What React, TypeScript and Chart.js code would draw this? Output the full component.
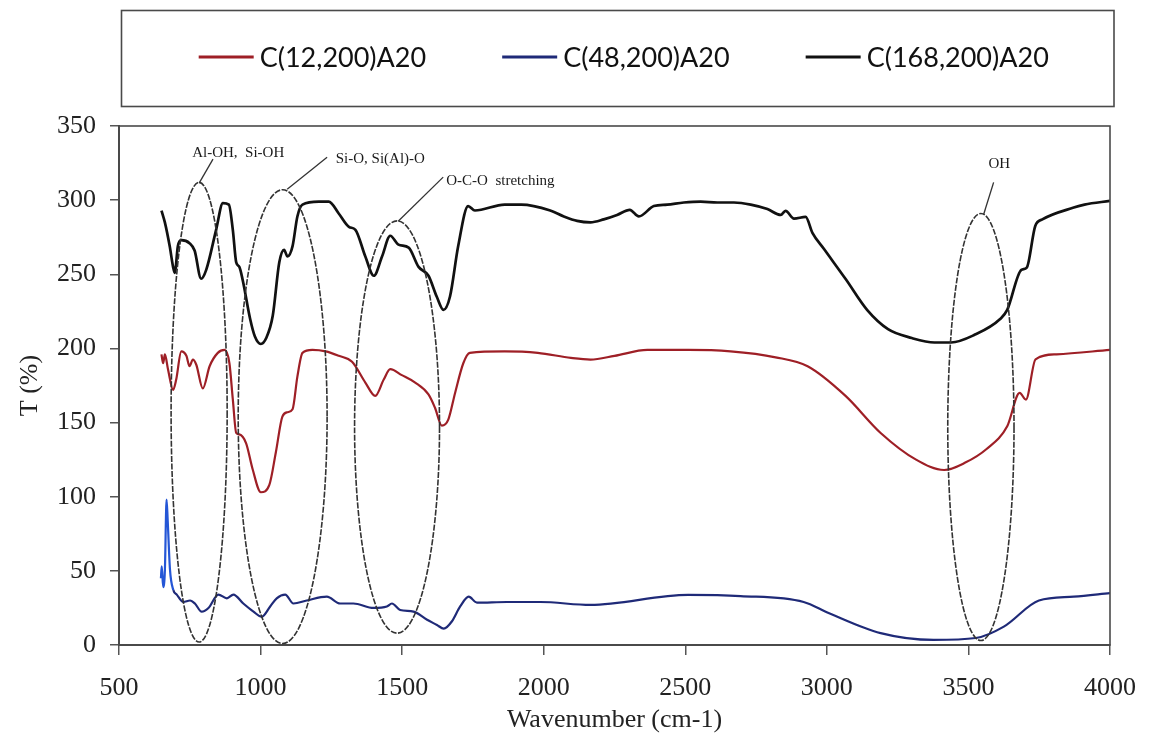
import React, { useEffect, useRef } from "react";
import { Chart, registerables } from "chart.js";

Chart.register(...registerables);

// ---------- data ----------
const seriesNames = ["C(12,200)A20", "C(48,200)A20", "C(168,200)A20"];
const seriesColors = ["#9e1f26", "#1f2a78", "#111111"];

const wn12 = [650, 656, 662, 673, 691, 702, 720, 738, 749, 761, 773, 796, 820, 849, 873, 890, 902, 914, 925, 949, 972, 1001, 1031, 1054, 1077, 1095, 1113, 1130, 1148, 1183, 1230, 1276, 1323, 1370, 1405, 1435, 1458, 1499, 1546, 1593, 1616, 1640, 1663, 1687, 1716, 1739, 1862, 1979, 2096, 2165, 2250, 2366, 2511, 2660, 2819, 2932, 3066, 3190, 3315, 3414, 3489, 3563, 3637, 3681, 3703, 3737, 3811, 4000];
const t12 = [196, 190, 196, 186, 172, 179, 198, 195, 188, 192.5, 189, 173, 188, 197, 199, 190, 165.6, 143, 142, 136, 118.5, 103, 108, 130, 154, 157, 159, 181, 197, 199, 198, 195, 191, 177, 168, 179, 186, 182, 177, 169, 160, 148, 152, 170, 190, 197, 198, 197, 193.6, 192.5, 195, 199, 199, 198, 194, 188, 168, 143, 125, 118, 123, 132, 147.5, 170, 165.5, 192.6, 196, 199];

const wn48 = [648, 651, 656, 662, 668, 672, 680, 692, 704, 727, 751, 768, 792, 816, 851, 881, 904, 939, 975, 1004, 1034, 1057, 1087, 1116, 1163, 1234, 1281, 1328, 1399, 1446, 1464, 1493, 1540, 1588, 1623, 1647, 1676, 1705, 1735, 1764, 1870, 1988, 2165, 2510, 2695, 2918, 3006, 3190, 3377, 3526, 3625, 3749, 3872, 4000];
const t48 = [45, 53, 39, 50, 98, 84, 51, 37, 34, 29, 30, 28, 22.5, 25, 34, 31.5, 34, 28, 22.5, 19, 26, 31.5, 34, 28, 30, 32.6, 28, 28, 25, 26, 28, 23.6, 22.5, 17, 13.5, 11, 16, 26, 32.6, 28.6, 29, 29, 27, 33.8, 33, 29, 21.6, 8, 3.4, 4.7, 12.4, 30, 32.6, 35];

const wn168 = [650, 662, 679, 691, 697, 708, 720, 749, 767, 790, 808, 843, 867, 888, 902, 914, 925, 937, 963, 980, 1001, 1020, 1043, 1066, 1083, 1095, 1113, 1130, 1148, 1206, 1241, 1276, 1312, 1335, 1370, 1400, 1429, 1458, 1487, 1523, 1558, 1593, 1622, 1646, 1669, 1698, 1733, 1757, 1862, 1921, 2023, 2071, 2118, 2165, 2212, 2259, 2304, 2336, 2389, 2436, 2495, 2554, 2613, 2672, 2731, 2790, 2837, 2854, 2884, 2925, 2949, 2990, 3067, 3142, 3216, 3300, 3380, 3439, 3520, 3613, 3637, 3687, 3706, 3736, 3761, 3872, 3910, 4000];
const t168 = [293, 285, 269, 255, 251, 269, 273, 271, 266, 247, 253, 280, 298, 297, 280, 258, 255, 246, 220, 208, 203, 207, 222, 258, 266.5, 262, 269, 289, 297, 299, 299, 291, 282, 280, 262, 249, 262, 276, 270, 268, 255, 249, 235, 226, 235, 269, 296, 293, 297, 297, 293, 289, 286, 285, 287, 290, 293.5, 289, 296, 297, 298.4, 299, 298.4, 298.4, 297, 294, 290, 292.8, 287.6, 288.7, 278, 267, 246.6, 226, 213, 207, 204, 204, 209, 220, 226, 253, 254.5, 282.6, 287, 295, 297, 299.5];

// band annotations (data units: wavenumber / T)
const noteText = ["Al-OH,  Si-OH", "Si-O, Si(Al)-O", "O-C-O  stretching", "OH"];
const noteWn = [921, 1423, 1847, 3609];
const noteT = [332, 327.7, 312.8, 324.3];
const ellipseCx = [783, 1078, 1482, 3544];
const ellipseCy = [157, 154, 147, 147];
const ellipseRx = [99, 157, 150, 117];
const ellipseRy = [155, 153, 139, 144];
const leadFromWn = [783, 1094, 1486, 3554];
const leadFromT = [311.5, 307.4, 285.8, 290.5];
const leadToWn = [832, 1235, 1645, 3589];
const leadToT = [327.7, 329, 315.5, 312];

const SERIF = "'Liberation Serif', 'DejaVu Serif', serif";
const SANS = "Lato, 'Liberation Sans', sans-serif";

const toPts = (xs: number[], ys: number[]) => xs.map((v, i) => ({ x: v, y: ys[i] }));

const decorPlugin = {
  id: "decor",
  afterDraw(chart: any) {
    const { ctx, chartArea: a, scales } = chart;
    const xs = scales.x;
    const ys = scales.y;
    ctx.save();
    // plot frame
    ctx.strokeStyle = "#4a4a4a";
    ctx.lineWidth = 1.6;
    ctx.strokeRect(a.left, a.top, a.right - a.left, a.bottom - a.top);

    // ellipses
    ctx.strokeStyle = "#333";
    ctx.lineWidth = 1.6;
    ctx.setLineDash([6, 1.5]);
    for (let i = 0; i < ellipseCx.length; i++) {
      const cx = xs.getPixelForValue(ellipseCx[i]);
      const cy = ys.getPixelForValue(ellipseCy[i]);
      const rx = Math.abs(xs.getPixelForValue(ellipseCx[i] + ellipseRx[i]) - cx);
      const ry = Math.abs(ys.getPixelForValue(ellipseCy[i] + ellipseRy[i]) - cy);
      ctx.beginPath();
      ctx.ellipse(cx, cy, rx, ry, 0, 0, Math.PI * 2);
      ctx.stroke();
    }
    ctx.setLineDash([]);
    // leader lines
    ctx.lineWidth = 1.3;
    for (let i = 0; i < leadFromWn.length; i++) {
      ctx.beginPath();
      ctx.moveTo(xs.getPixelForValue(leadFromWn[i]), ys.getPixelForValue(leadFromT[i]));
      ctx.lineTo(xs.getPixelForValue(leadToWn[i]), ys.getPixelForValue(leadToT[i]));
      ctx.stroke();
    }
    // note texts
    ctx.fillStyle = "#1a1a1a";
    ctx.font = `15px ${SERIF}`;
    ctx.textAlign = "center";
    ctx.textBaseline = "middle";
    for (let i = 0; i < noteText.length; i++) {
      ctx.fillText(noteText[i], xs.getPixelForValue(noteWn[i]), ys.getPixelForValue(noteT[i]));
    }

    // legend box
    const bx = 121.5, by = 10.5, bw = 992.5, bh = 96;
    ctx.strokeStyle = "#4a4a4a";
    ctx.lineWidth = 1.6;
    ctx.strokeRect(bx, by, bw, bh);
    ctx.font = `27px ${SANS}`;
    ctx.textAlign = "left";
    const lineLen = 55, gapText = 6, gapItem = 76;
    const widths = seriesNames.map((n) => lineLen + gapText + ctx.measureText(n).width);
    const total = widths.reduce((s, w) => s + w, 0) + gapItem * (widths.length - 1);
    let cur = bx + bw / 2 - total / 2 + 6;
    const ly = 57;
    chart.data.datasets.forEach((ds: any, i: number) => {
      ctx.strokeStyle = seriesColors[i];
      ctx.lineWidth = 3;
      ctx.beginPath();
      ctx.moveTo(cur, ly);
      ctx.lineTo(cur + lineLen, ly);
      ctx.stroke();
      ctx.fillStyle = "#111";
      ctx.fillText(ds.label, cur + lineLen + gapText, ly + 1);
      cur += widths[i] + gapItem;
    });
    ctx.restore();
  },
};

export default function App() {
  const ref = useRef<HTMLCanvasElement | null>(null);
  useEffect(() => {
    document.body.style.margin = "0";
    if (!ref.current) return;
    const chart = new Chart(ref.current, {
      type: "line",
      data: {
        datasets: [
          {
            label: seriesNames[0],
            data: toPts(wn12, t12),
            borderColor: seriesColors[0],
            borderWidth: 2.2,
            pointRadius: 0,
            cubicInterpolationMode: "monotone",
          },
          {
            label: seriesNames[1],
            data: toPts(wn48, t48),
            borderColor: seriesColors[1],
            borderWidth: 2.2,
            pointRadius: 0,
            cubicInterpolationMode: "monotone",
            segment: {
              borderColor: (c: any) => (c.p1DataIndex <= 7 ? "#2456d6" : seriesColors[1]),
            },
          },
          {
            label: seriesNames[2],
            data: toPts(wn168, t168),
            borderColor: seriesColors[2],
            borderWidth: 2.7,
            pointRadius: 0,
            cubicInterpolationMode: "monotone",
          },
        ],
      } as any,
      options: {
        responsive: false,
        animation: false,
        devicePixelRatio: 1,
        layout: { padding: { top: 126, right: 40, left: 0, bottom: 0 } },
        plugins: { legend: { display: false }, tooltip: { enabled: false } },
        scales: {
          x: {
            type: "linear",
            min: 500,
            max: 4000,
            afterFit: (s: any) => {
              s.height = 105;
              s.paddingLeft = 0;
              s.paddingRight = 0;
            },
            ticks: {
              stepSize: 500,
              padding: 18,
              color: "#222",
              font: { family: SERIF, size: 26 },
              callback: (v: any) => String(v),
              maxRotation: 0,
            },
            grid: { display: true, drawOnChartArea: false, drawTicks: true, tickLength: 10, color: "#555", lineWidth: 1.5 },
            border: { display: true, color: "#4a4a4a", width: 2 },
            title: {
              display: true,
              text: "Wavenumber (cm-1)",
              color: "#222",
              font: { family: SERIF, size: 26 },
              padding: { top: 0, bottom: 14 },
            },
          },
          y: {
            type: "linear",
            min: 0,
            max: 350,
            afterFit: (s: any) => {
              s.width = 119;
            },
            ticks: {
              stepSize: 50,
              padding: 14,
              color: "#222",
              font: { family: SERIF, size: 26 },
            },
            grid: { display: true, drawOnChartArea: false, drawTicks: true, tickLength: 9, color: "#555", lineWidth: 1.5 },
            border: { display: true, color: "#4a4a4a", width: 2 },
            title: {
              display: true,
              text: "T (%)",
              color: "#222",
              font: { family: SERIF, size: 26 },
              padding: { top: 15, bottom: 0 },
            },
          },
        },
      } as any,
      plugins: [decorPlugin],
    });
    return () => chart.destroy();
  }, []);
  return (
    <div style={{ width: 1150, height: 750, background: "#fff" }}>
      <canvas ref={ref} width={1150} height={750} style={{ display: "block" }} />
    </div>
  );
}
